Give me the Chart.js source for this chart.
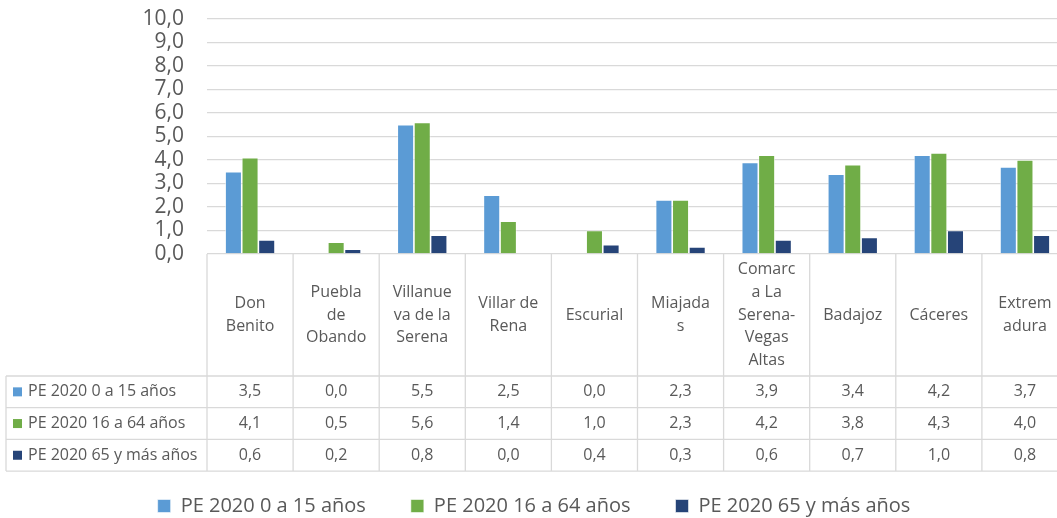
<!DOCTYPE html>
<html>
<head>
<meta charset="utf-8">
<script src="https://cdn.jsdelivr.net/npm/chart.js@4.4.1/dist/chart.umd.min.js"></script>
<style>
  html, body { margin: 0; padding: 0; background: #fff; overflow: hidden; }
  #wrap { width: 1068px; height: 518px; position: relative; }
</style>
</head>
<body>
<div id="wrap"><canvas id="chart-canvas"></canvas></div>
<script>
var categories = [
    ["Don", "Benito"],
    ["Puebla", "de", "Obando"],
    ["Villanue", "va de la", "Serena"],
    ["Villar de", "Rena"],
    ["Escurial"],
    ["Miajada", "s"],
    ["Comarc", "a La", "Serena-", "Vegas", "Altas"],
    ["Badajoz"],
    ["Cáceres"],
    ["Extrem", "adura"]
];

var seriesNames = ["PE 2020 0 a 15 años", "PE 2020 16 a 64 años", "PE 2020 65 y más años"];
var seriesColors = ["#5B9BD5", "#70AD47", "#264478"];

var young = [3.5, 0.0, 5.5, 2.5, 0.0, 2.3, 3.9, 3.4, 4.2, 3.7];
var adults = [4.1, 0.5, 5.6, 1.4, 1.0, 2.3, 4.2, 3.8, 4.3, 4.0];
var seniors = [0.6, 0.2, 0.8, 0.0, 0.4, 0.3, 0.6, 0.7, 1.0, 0.8];

var yTicks = [0, 1, 2, 3, 4, 5, 6, 7, 8, 9, 10];

var textColor = "#595959";
var lineColor = "#d9d9d9";
var fontFamily = "'Open Sans', 'Noto Sans', sans-serif";

function fmt(v) {
    return v.toFixed(1).replace(".", ",");
}

// draws the data table under the plot, excel style
var dataTablePlugin = {
    id: 'dataTable',
    afterDraw: function(chart) {
        var ctx = chart.ctx;
        var area = chart.chartArea;
        var x = chart.scales.x;
        var colW = (area.right - area.left) / categories.length;
        var top = area.bottom;
        var headerBottom = top + 122;
        var rowH = 31.7;
        var tableBottom = headerBottom + rowH * 3;
        var leftEdge = 6;
        var series = [young, adults, seniors];

        ctx.save();
        ctx.strokeStyle = lineColor;
        ctx.lineWidth = 1.3;
        ctx.beginPath();
        for (var r = 0; r <= 3; r++) {
            var yy = headerBottom + r * rowH;
            ctx.moveTo(leftEdge, yy);
            ctx.lineTo(area.right, yy);
        }
        ctx.moveTo(leftEdge, headerBottom);
        ctx.lineTo(leftEdge, tableBottom);
        for (var i = 0; i <= categories.length; i++) {
            var xx = area.left + i * colW;
            ctx.moveTo(xx, top);
            ctx.lineTo(xx, tableBottom);
        }
        ctx.stroke();

        ctx.fillStyle = textColor;
        ctx.font = "16px " + fontFamily;
        ctx.textAlign = "center";
        ctx.textBaseline = "middle";
        var lineH = 22.7;
        var midHeader = (top + headerBottom) / 2;
        categories.forEach(function(lines, i) {
            var cx = x.getPixelForValue(i);
            var startY = midHeader - (lines.length - 1) * lineH / 2;
            lines.forEach(function(t, j) {
                ctx.fillText(t, cx, startY + j * lineH);
            });
        });

        series.forEach(function(vals, r) {
            var cy = headerBottom + r * rowH + rowH / 2;
            ctx.fillStyle = seriesColors[r];
            ctx.fillRect(13, cy - 4.5, 9, 9);
            ctx.fillStyle = textColor;
            ctx.textAlign = "left";
            ctx.fillText(seriesNames[r], 28, cy);
            ctx.textAlign = "center";
            vals.forEach(function(v, i) {
                ctx.fillText(fmt(v), x.getPixelForValue(i), cy);
            });
        });
        ctx.restore();
    }
};

window.onload = function() {
    var ctx = document.getElementById("chart-canvas").getContext("2d");
    var datasets = [young, adults, seniors].map(function(vals, i) {
        return {
            label: seriesNames[i],
            data: vals,
            backgroundColor: seriesColors[i],
            borderColor: "rgba(255,255,255,0.7)",
            borderWidth: 0.8,
            categoryPercentage: 0.58,
            barPercentage: 1.0
        };
    });
    window.myBar = new Chart(ctx, {
        type: 'bar',
        data: {
            labels: categories.map(function(c) { return c.join(" "); }),
            datasets: datasets
        },
        options: {
            responsive: true,
            maintainAspectRatio: false,
            animation: false,
            layout: {
                padding: { top: 0, bottom: -8, left: 0, right: 0 }
            },
            plugins: {
                legend: {
                    position: 'bottom',
                    labels: {
                        boxWidth: 13,
                        boxHeight: 13,
                        padding: 45,
                        color: textColor,
                        font: { family: fontFamily, size: 20 }
                    }
                },
                tooltip: { enabled: false },
                title: { display: false }
            },
            scales: {
                x: {
                    grid: { display: false },
                    border: { display: false },
                    ticks: { display: false },
                    afterFit: function(scale) { scale.height = 197; }
                },
                y: {
                    min: 0,
                    max: 10,
                    afterBuildTicks: function(scale) {
                        scale.ticks = yTicks.map(function(v) { return { value: v }; });
                    },
                    grid: { color: lineColor, lineWidth: 1.3, drawTicks: false },
                    border: { display: false },
                    ticks: {
                        autoSkip: false,
                        padding: 23,
                        color: textColor,
                        font: { family: fontFamily, size: 21 },
                        callback: function(v) { return fmt(v); }
                    },
                    afterFit: function(scale) {
                        scale.width = 207;
                        scale.paddingTop = 19;
                        scale.paddingBottom = 0;
                    }
                }
            }
        },
        plugins: [dataTablePlugin]
    });
};
</script>
</body>
</html>
